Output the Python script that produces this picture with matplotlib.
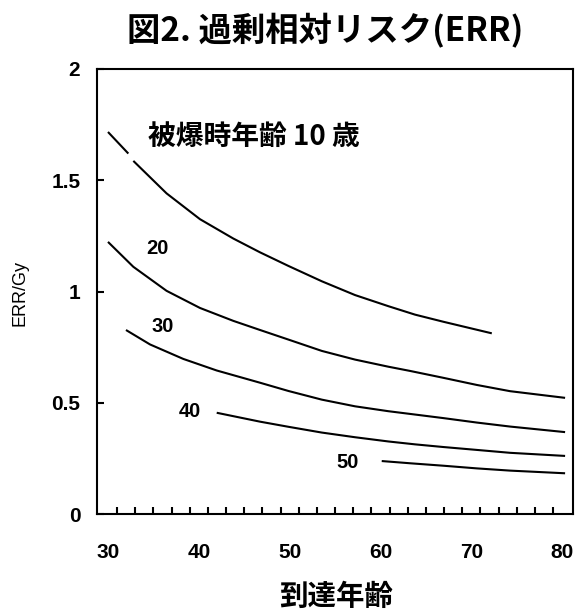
import numpy as np
import matplotlib.pyplot as plt

plt.rcParams['font.family'] = ['Liberation Sans', 'Noto Sans CJK JP', 'DejaVu Sans']
CJK = ['Noto Sans CJK JP', 'DejaVu Sans']

# ERR/Gy by attained age, one curve per age at exposure
age_10 = [30, 32.24, np.nan, 32.79, 36.45, 40.13, 43.80, 46.74, 49.86, 53.54,
          57.20, 60.87, 63.81, 66.93, 72.26]
err_10 = [1.717, 1.620, np.nan, 1.587, 1.441, 1.325, 1.238, 1.176, 1.115, 1.046,
          0.984, 0.934, 0.896, 0.864, 0.812]

age_20 = [30, 32.79, 36.45, 40.13, 43.80, 46.74, 49.86, 53.54, 57.20, 60.87,
          63.26, 66.93, 70.61, 74.27, 80.33]
err_20 = [1.223, 1.111, 1.003, 0.926, 0.868, 0.827, 0.784, 0.733, 0.694, 0.662,
          0.643, 0.612, 0.580, 0.552, 0.522]

age_30 = [31.98, 34.63, 38.29, 41.97, 46.74, 49.86, 53.54, 57.20, 60.87, 63.81,
          66.93, 70.61, 74.27, 80.33]
err_30 = [0.827, 0.762, 0.697, 0.645, 0.590, 0.553, 0.514, 0.484, 0.462, 0.447,
          0.431, 0.411, 0.393, 0.368]

age_40 = [41.97, 46.74, 49.86, 53.54, 57.20, 60.87, 63.81, 66.93, 70.61, 74.27, 80.33]
err_40 = [0.455, 0.415, 0.392, 0.366, 0.345, 0.326, 0.313, 0.301, 0.288, 0.275, 0.261]

age_50 = [60.14, 63.26, 66.93, 70.61, 74.27, 80.33]
err_50 = [0.238, 0.228, 0.217, 0.205, 0.195, 0.183]

curve_labels = ['20', '30', '40', '50']
x_ticks = [30, 40, 50, 60, 70, 80]
x_minor = np.arange(31, 80, 2)
y_ticks = [0, 0.5, 1, 1.5, 2]

fig = plt.figure(figsize=(5.77, 6.10), dpi=100)
ax = fig.add_axes([97/577, 1-514/610, (573-97)/577, (514-69)/610])

for xs, ys in [(age_10, err_10), (age_20, err_20), (age_30, err_30),
               (age_40, err_40), (age_50, err_50)]:
    ax.plot(xs, ys, color='black', lw=1.5, solid_capstyle='butt')

ax.set_xlim(28.79, 81.2)
ax.set_ylim(0, 2)

ax.set_xticks(x_ticks)
ax.set_yticks(y_ticks)
ax.set_yticklabels(['0', '0.5', '1', '1.5', '2'])
ax.tick_params(axis='x', length=0, pad=21, labelsize=15)
ax.tick_params(axis='y', length=0, pad=12, labelsize=15)
for lab in ax.get_xticklabels() + ax.get_yticklabels():
    lab.set_fontweight('bold')
for sp in ax.spines.values():
    sp.set_linewidth(1.5)

# inward tick marks drawn as short line segments
ax.vlines(x_minor, 0, 7/445, transform=ax.get_xaxis_transform(),
          color='black', lw=1.5, clip_on=False)
ax.hlines(y_ticks, 0, 7/476, transform=ax.get_yaxis_transform(),
          color='black', lw=1.5, clip_on=False)

# curve labels
ax.text(34.4, 1.694, '被爆時年齢 10 歳', family=CJK, fontsize=20,
        fontweight='bold', ha='left', va='center')
label_pos = [(35.4, 1.194), (36.06, 0.842), (39.0, 0.459), (56.4, 0.23)]
for txt, (lx, ly) in zip(curve_labels, label_pos):
    ax.text(lx, ly, txt, fontsize=14.5, fontweight='bold', ha='center', va='center')

fig.text(325/577, 1-31/610, '図2. 過剰相対リスク(ERR)', family=CJK, fontsize=24,
         fontweight='bold', ha='center', va='center')
fig.text(336/577, 1-597/610, '到達年齢', family=CJK, fontsize=20.5,
         fontweight='bold', ha='center', va='center')
fig.text(20/577, 1-293/610, 'ERR/Gy', fontsize=13, rotation=90,
         ha='center', va='center')

fig.savefig('out.png', dpi=100)
